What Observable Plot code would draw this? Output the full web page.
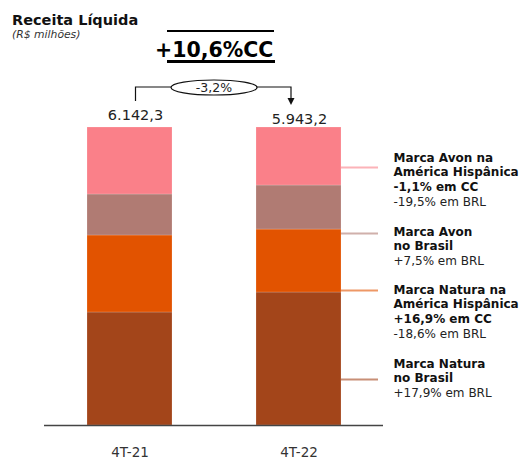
<!DOCTYPE html>
<html><head><meta charset="utf-8">
<script src="https://cdn.jsdelivr.net/npm/d3@7"></script>
<script src="https://cdn.jsdelivr.net/npm/@observablehq/plot@0.6"></script>
<style>
body{margin:0;background:#fff;font-family:"DejaVu Sans",Verdana,sans-serif;}
#wrap{position:relative;width:521px;height:460px;overflow:hidden;}
#wrap svg{position:absolute;left:0;top:0;}
.t{position:absolute;white-space:nowrap;line-height:1;}
.bar{position:absolute;background:#000;}
</style></head><body>
<div id="wrap">
<div class="t" id="title" style="left:12px;top:13.2px;font-size:14.5px;font-weight:bold;color:#111;"></div>
<div class="t" id="subtitle" style="left:12px;top:30.2px;font-size:10.8px;font-style:italic;color:#333;"></div>
<div class="t" id="headline" style="left:155px;top:39.7px;font-size:20.5px;font-weight:bold;color:#000;"></div>
<div class="bar" style="left:167px;top:29.5px;width:107px;height:2.5px;"></div>
<div class="bar" style="left:167px;top:60px;width:108px;height:2.5px;"></div>
</div>
<script>
// ---- data ----
const title = "Receita Líquida";
const subtitle = "(R$ milhões)";
const headline = "+10,6%CC";
const change = "-3,2%";
const quarters = ["4T-21", "4T-22"];
const totalLabels = ["6.142,3", "5.943,2"];
const segments = ["Marca Natura no Brasil", "Marca Natura na América Hispânica", "Marca Avon no Brasil", "Marca Avon na América Hispânica"];
const values4T21 = [2329, 1587, 845, 1381];
const values4T22 = [2652, 1256, 878, 1157];
const segmentColors = ["#A3451A", "#E25300", "#B07B73", "#FA8089"];
const labelBold = [["Marca Natura", "no Brasil"], ["Marca Natura na", "América Hispânica", "+16,9% em CC"], ["Marca Avon", "no Brasil"], ["Marca Avon na", "América Hispânica", "-1,1% em CC"]];
const labelNotes = ["+17,9% em BRL", "-18,6% em BRL", "+7,5% em BRL", "-19,5% em BRL"];

// ---- layout (annotation anchors in normalized share units) ----
const leaderY = [0.154, 0.453, 0.644, 0.866];
const labelTopY = [0.2225, 0.471, 0.665, 0.914];

document.getElementById("title").textContent = title;
document.getElementById("subtitle").textContent = subtitle;
document.getElementById("headline").textContent = headline;

const seriesByQuarter = [values4T21, values4T22];
const rows = quarters.flatMap((q, i) => segments.map((s, j) => ({quarter: q, segment: s, value: seriesByQuarter[i][j]})));
const totals = quarters.map((q, i) => ({quarter: q, label: totalLabels[i]}));
const leaders = segments.map((s, i) => ({segment: s, y: leaderY[i]}));
const boldLabels = segments.map((s, i) => ({y: labelTopY[i], text: labelBold[i].join("\n")}));
const noteLabels = segments.map((s, i) => ({y: labelTopY[i], text: labelBold[i].map(() => "\u00a0").join("\n") + "\n" + labelNotes[i]}));

function bracket(index, scales) {
  const {x, y} = scales;
  const bw = x.bandwidth();
  const x1 = x(quarters[0]) + bw / 2 + 6;
  const x2 = x(quarters[1]) + bw / 2 - 7.5;
  const cx = (x(quarters[0]) + x(quarters[1]) + bw) / 2;
  const top = y(1);
  const yb = top - 40, y1 = top - 26, ytip = top - 22;
  const g = d3.create("svg:g");
  g.append("path").attr("d", `M${x1},${y1}V${yb}H${x2}V${ytip - 6}`)
    .attr("fill", "none").attr("stroke", "#111").attr("stroke-width", 1.2);
  g.append("path").attr("d", `M${x2 - 3.5},${ytip - 7}L${x2 + 3.5},${ytip - 7}L${x2},${ytip}Z`).attr("fill", "#111");
  g.append("ellipse").attr("cx", cx).attr("cy", yb + 0.5).attr("rx", 43).attr("ry", 7.5)
    .attr("fill", "#fff").attr("stroke", "#111").attr("stroke-width", 1.2);
  g.append("text").attr("x", cx).attr("y", yb + 0.5).attr("dy", "0.35em")
    .attr("text-anchor", "middle").attr("font-size", 12.5).attr("fill", "#222").text(change);
  return g.node();
}

const chart = Plot.plot({
  width: 521,
  height: 460,
  marginTop: 127,
  marginBottom: 35,
  marginLeft: 44,
  marginRight: 138,
  style: {fontFamily: "DejaVu Sans, Verdana, sans-serif", fontSize: "13.5px", color: "#333", background: "transparent"},
  x: {domain: quarters, paddingInner: 0.5, paddingOuter: 0.25, tickSize: 0, tickPadding: 22, label: null},
  y: {domain: [0, 1], axis: null},
  color: {domain: segments, range: segmentColors},
  marks: [
    Plot.barY(rows, Plot.stackY({offset: "normalize", x: "quarter", y: "value", fill: "segment", stroke: "#fff", strokeOpacity: 0.3, strokeWidth: 0.6})),
    Plot.ruleY([0], {stroke: "#444", strokeWidth: 1.5}),
    Plot.tickY(leaders, {x: () => quarters[1], y: "y", stroke: "segment", strokeOpacity: 0.6, strokeWidth: 2, dx: 85, insetRight: 48}),
    Plot.text(boldLabels, {x: () => quarters[1], y: "y", text: "text", dx: 94.5, dy: -2, textAnchor: "start", lineAnchor: "top", lineHeight: 1.225, fontSize: 12, fontWeight: "bold", fill: "#111"}),
    Plot.text(noteLabels, {x: () => quarters[1], y: "y", text: "text", dx: 94.5, dy: -2, textAnchor: "start", lineAnchor: "top", lineHeight: 1.225, fontSize: 12, fill: "#222"}),
    Plot.text(totals, {filter: d => d.quarter === quarters[0], x: "quarter", y: () => 1, text: "label", dx: 5.5, dy: -12, fontSize: 14.5, fill: "#222"}),
    Plot.text(totals, {filter: d => d.quarter === quarters[1], x: "quarter", y: () => 1, text: "label", dx: 0.5, dy: -8, fontSize: 14.5, fill: "#222"}),
    bracket
  ]
});
document.getElementById("wrap").prepend(chart);
</script>
</body></html>
